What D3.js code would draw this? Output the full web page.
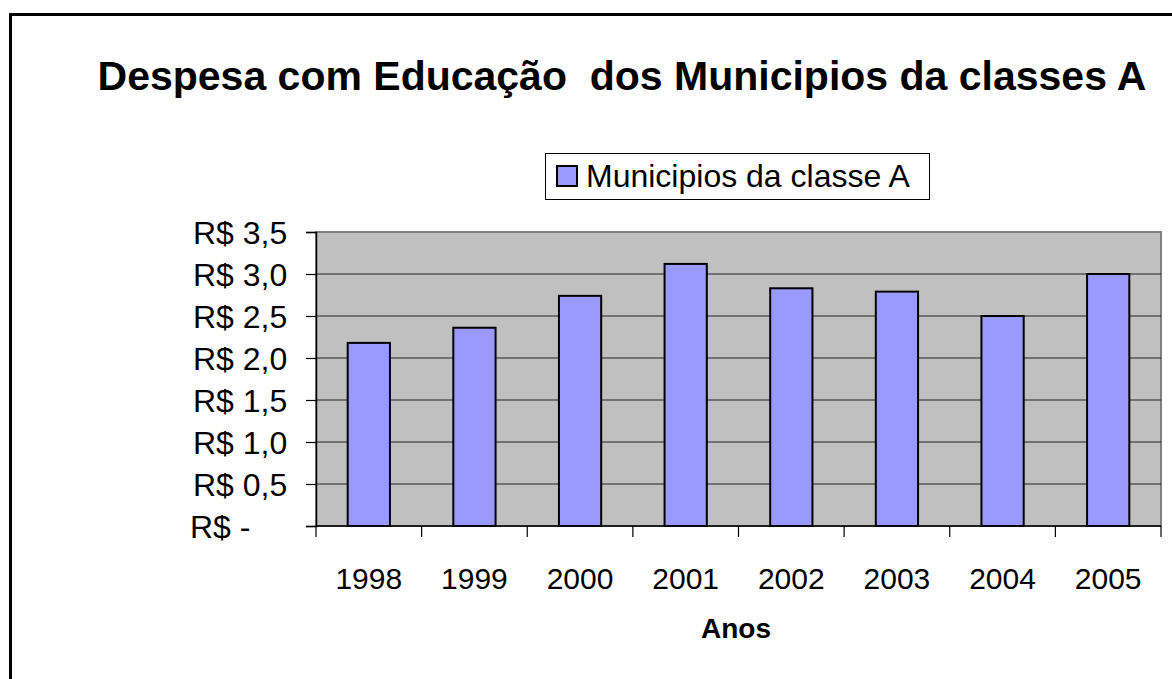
<!DOCTYPE html>
<html>
<head>
<meta charset="utf-8">
<script src="https://cdn.jsdelivr.net/npm/d3@7"></script>
<style>
  body { margin: 0; background: #fff; }
  svg text { font-family: "Liberation Sans", Arial, sans-serif; }
</style>
</head>
<body>
<div id="chart"></div>
<script>
// Data
var anos = ['1998', '1999', '2000', '2001', '2002', '2003', '2004', '2005'];
var despesa = [2.18, 2.36, 2.74, 3.12, 2.83, 2.79, 2.50, 3.00];
var yTicks = [0, 0.5, 1.0, 1.5, 2.0, 2.5, 3.0, 3.5];
var serieNome = 'Municipios da classe A';
var titulo = 'Despesa com Educação\u00a0 dos Municipios da classes A';

var W = 1172, H = 679;
var plot = {left: 316, top: 232, right: 1161, bottom: 526};

var svg = d3.select('#chart').append('svg')
    .attr('width', W)
    .attr('height', H);

svg.append('rect').attr('width', W).attr('height', H).attr('fill', '#fff');

// outer chart border (runs off the right/bottom edge)
svg.append('rect')
    .attr('x', 10.5).attr('y', 14.5)
    .attr('width', 1300).attr('height', 800)
    .attr('fill', 'none')
    .attr('stroke', '#000')
    .attr('stroke-width', 3);

// Scales
var x = d3.scaleBand()
    .domain(anos)
    .range([plot.left, plot.right])
    .padding(0);

var y = d3.scaleLinear()
    .domain([0, 3.5])
    .range([plot.bottom, plot.top]);

// Plot background
svg.append('rect')
    .attr('x', plot.left).attr('y', plot.top)
    .attr('width', plot.right - plot.left)
    .attr('height', plot.bottom - plot.top)
    .attr('fill', '#c0c0c0')
    .attr('stroke', '#808080')
    .attr('stroke-width', 2);

// gridlines
svg.append('g').selectAll('line')
    .data(yTicks.filter(function(d) { return d > 0 && d < 3.5; }))
    .enter().append('line')
    .attr('x1', plot.left).attr('x2', plot.right)
    .attr('y1', function(d) { return y(d); })
    .attr('y2', function(d) { return y(d); })
    .attr('stroke', '#222')
    .attr('stroke-width', 1.2);

// Bars
var barW = x.bandwidth() * 0.4;
svg.append('g').selectAll('rect')
    .data(despesa)
    .enter().append('rect')
    .attr('x', function(d, i) { return x(anos[i]) + (x.bandwidth() - barW) / 2; })
    .attr('y', function(d) { return y(d); })
    .attr('width', barW)
    .attr('height', function(d) { return y(0) - y(d); })
    .attr('fill', '#9999ff')
    .attr('stroke', '#000')
    .attr('stroke-width', 2);

// Y axis
var yAxis = d3.axisLeft(y)
    .tickValues(yTicks)
    .tickSize(10)
    .tickFormat('');
var gy = svg.append('g')
    .attr('transform', 'translate(' + plot.left + ',0)')
    .call(yAxis);
gy.select('.domain').attr('stroke', '#000').attr('stroke-width', 1.5);
gy.selectAll('.tick line').attr('stroke', '#000').attr('stroke-width', 1.2);

svg.append('g').selectAll('text')
    .data(yTicks)
    .enter().append('text')
    .attr('x', function(d) { return d === 0 ? 190 : 193; })
    .attr('y', function(d) { return y(d); })
    .attr('dy', '0.36em')
    .attr('font-size', 32)
    .attr('fill', '#000')
    .text(function(d) {
        return d === 0 ? 'R$ -' : 'R$ ' + d.toFixed(1).replace('.', ',');
    });

// X axis: ticks on category boundaries
var xBounds = anos.map(function(a) { return x(a); }).concat([plot.right]);
svg.append('line')
    .attr('x1', plot.left).attr('x2', plot.right)
    .attr('y1', plot.bottom).attr('y2', plot.bottom)
    .attr('stroke', '#000').attr('stroke-width', 1.5);
svg.append('g').selectAll('line')
    .data(xBounds)
    .enter().append('line')
    .attr('x1', function(d) { return d; })
    .attr('x2', function(d) { return d; })
    .attr('y1', plot.bottom).attr('y2', plot.bottom + 11)
    .attr('stroke', '#000').attr('stroke-width', 1.2);

svg.append('g').selectAll('text')
    .data(anos)
    .enter().append('text')
    .attr('x', function(d) { return x(d) + x.bandwidth() / 2; })
    .attr('y', 589)
    .attr('text-anchor', 'middle')
    .attr('font-size', 30)
    .text(function(d) { return d; });

// Axis title
svg.append('text')
    .attr('x', 736).attr('y', 638)
    .attr('text-anchor', 'middle')
    .attr('font-size', 28)
    .attr('font-weight', 'bold')
    .text('Anos');

// Title
svg.append('text')
    .attr('x', 622).attr('y', 90)
    .attr('text-anchor', 'middle')
    .attr('font-size', 41)
    .attr('font-weight', 'bold')
    .text(titulo);

// Legend
var leg = svg.append('g');
leg.append('rect')
    .attr('x', 545.5).attr('y', 153.5)
    .attr('width', 384).attr('height', 46)
    .attr('fill', '#fff')
    .attr('stroke', '#000')
    .attr('stroke-width', 1);
leg.append('rect')
    .attr('x', 557).attr('y', 166)
    .attr('width', 20).attr('height', 20)
    .attr('fill', '#9999ff')
    .attr('stroke', '#000')
    .attr('stroke-width', 2);
leg.append('text')
    .attr('x', 586).attr('y', 187)
    .attr('font-size', 32)
    .text(serieNome);
</script>
</body>
</html>
